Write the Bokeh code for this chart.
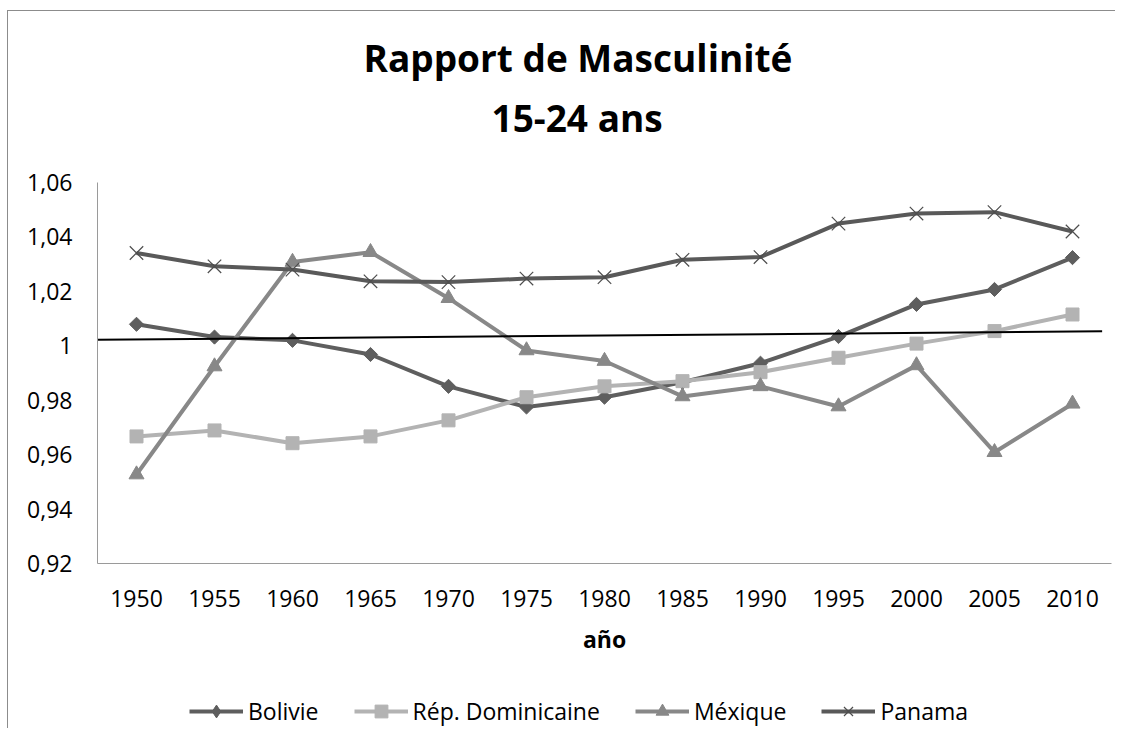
import numpy as np
from bokeh.plotting import figure
from bokeh.layouts import column
from bokeh.models import (Range1d, FixedTicker, Legend, LegendItem, Title,
                          InlineStyleSheet)
from bokeh.embed import file_html
from bokeh.resources import INLINE

years = ["1950", "1955", "1960", "1965", "1970", "1975", "1980",
         "1985", "1990", "1995", "2000", "2005", "2010"]
bolivie = [1.0079, 1.0032, 1.0020, 0.9968, 0.9851, 0.9775, 0.9811,
           0.9866, 0.9936, 1.0034, 1.0152, 1.0207, 1.0324]
rep_dom = [0.9667, 0.9689, 0.9642, 0.9667, 0.9726, 0.9811, 0.9851,
           0.9870, 0.9903, 0.9956, 1.0008, 1.0054, 1.0115]
mexique = [0.9527, 0.9924, 1.0308, 1.0344, 1.0175, 0.9983, 0.9944,
           0.9814, 0.9851, 0.9777, 0.9928, 0.9609, 0.9787]
panama = [1.0341, 1.0292, 1.0280, 1.0237, 1.0234, 1.0247, 1.0252,
          1.0316, 1.0326, 1.0449, 1.0486, 1.0491, 1.0420]
trend_x = [-0.5, 12.38]
trend_y = [1.0022, 1.0053]
y_ticks = [0.92, 0.94, 0.96, 0.98, 1.00, 1.02, 1.04, 1.06]
y_tick_labels = ["0,92", "0,94", "0,96", "0,98", "1", "1,02", "1,04", "1,06"]
title_lines = ["Rapport de Masculinité", "15-24 ans"]
x_title = "año"

FONT = "Open Sans"
xs = list(range(len(years)))

# ---------------- main chart ----------------
p = figure(width=1115, height=680, output_backend="svg", toolbar_location=None,
           x_range=Range1d(-0.5, len(years) - 0.5), y_range=Range1d(0.92, 1.06),
           min_border_left=97, min_border_right=4, min_border_top=182,
           min_border_bottom=117)
p.outline_line_color = None
p.grid.visible = False

for ax in (p.xaxis[0], p.yaxis[0]):
    ax.axis_line_color = "#9a9a9a"
    ax.axis_line_width = 1
    ax.major_tick_line_color = None
    ax.minor_tick_line_color = None
    ax.major_tick_out = 0
    ax.major_tick_in = 0
    ax.major_label_text_font = FONT
    ax.major_label_text_font_size = "23px"
    ax.major_label_text_color = "#000000"

p.xaxis.ticker = FixedTicker(ticks=xs)
p.xaxis.major_label_overrides = {i: y for i, y in enumerate(years)}
p.xaxis.major_label_standoff = 26
p.xaxis.axis_label = x_title
p.xaxis.axis_label_text_font = FONT
p.xaxis.axis_label_text_font_style = "bold"
p.xaxis.axis_label_text_font_size = "23px"
p.xaxis.axis_label_text_color = "#000000"
p.xaxis.axis_label_standoff = 13

p.yaxis.ticker = FixedTicker(ticks=y_ticks)
p.yaxis.major_label_overrides = {t: l for t, l in zip(y_ticks, y_tick_labels)}
p.yaxis.major_label_standoff = 25

# name, values, colour, marker (chart), size, angle, marker (legend)
series = [
    ("Bolivie", bolivie, "#5e5e5e", "square", 10, np.pi / 4, "diamond"),
    ("Rép. Dominicaine", rep_dom, "#b3b3b3", "square", 13, 0, "square"),
    ("Méxique", mexique, "#888888", "triangle", 15, 0, "triangle"),
    ("Panama", panama, "#595959", "x", 19, 0, "x"),
]
for name, vals, col, mk, sz, ang, lmk in series:
    p.line(xs, vals, line_color=col, line_width=4)
    if mk == "x":
        p.scatter(xs, vals, marker="x", size=sz, line_color="#4d4d4d",
                  line_width=1.2)
    else:
        p.scatter(xs, vals, marker=mk, size=sz, angle=ang, fill_color=col,
                  line_color=col, line_width=1)

p.line(trend_x, trend_y, line_color="#000000", line_width=2)

spacer = Title(text=" ", text_font_size="10px", standoff=26)
t2 = Title(text=title_lines[1], align="left", offset=394, standoff=2,
           text_font=FONT, text_font_style="bold", text_font_size="37px",
           text_color="#000000")
t1 = Title(text=title_lines[0], align="left", offset=266, standoff=12,
           text_font=FONT, text_font_style="bold", text_font_size="37px",
           text_color="#000000")
p.add_layout(spacer, "above")
p.add_layout(t2, "above")
p.add_layout(t1, "above")

# ---------------- legend strip ----------------
lg = figure(width=1115, height=48, output_backend="svg", toolbar_location=None,
            x_axis_type=None, y_axis_type=None,
            x_range=Range1d(0, 1), y_range=Range1d(0, 1),
            min_border=0, min_border_left=0, min_border_right=0,
            min_border_top=0, min_border_bottom=0)
lg.outline_line_color = None
lg.grid.visible = False
items = []
hidden = [-10.0]  # proxy glyph positions, outside the visible range
for name, vals, col, mk, sz, ang, lmk in series:
    ln = lg.line(x=hidden, y=hidden, line_color=col, line_width=4)
    if lmk == "x":
        sc = lg.scatter(x=hidden, y=hidden, marker="x", line_color="#4d4d4d",
                        line_width=1.2)
    else:
        sc = lg.scatter(x=hidden, y=hidden, marker=lmk,
                        fill_color=col, line_color=col, line_width=1)
    items.append(LegendItem(label=name, renderers=[ln, sc]))

legend = Legend(items=items, orientation="horizontal", location=(92, 1),
                glyph_width=54, glyph_height=32, label_standoff=5, spacing=35,
                padding=0, margin=0, border_line_color=None,
                background_fill_alpha=0,
                label_text_font=FONT, label_text_font_size="23px",
                label_text_color="#000000")
lg.add_layout(legend, "center")

frame_css = InlineStyleSheet(css="""
:host { position: relative; }
:host::after {
  content: ""; position: absolute; left: 7px; top: 10px; right: 0; bottom: 0;
  border-left: 1px solid #8c8c8c; border-top: 1px solid #8c8c8c;
  pointer-events: none; z-index: 10;
}
""")
layout = column(p, lg, spacing=0, stylesheets=[frame_css])
open("out.html", "w").write(file_html(layout, INLINE))
